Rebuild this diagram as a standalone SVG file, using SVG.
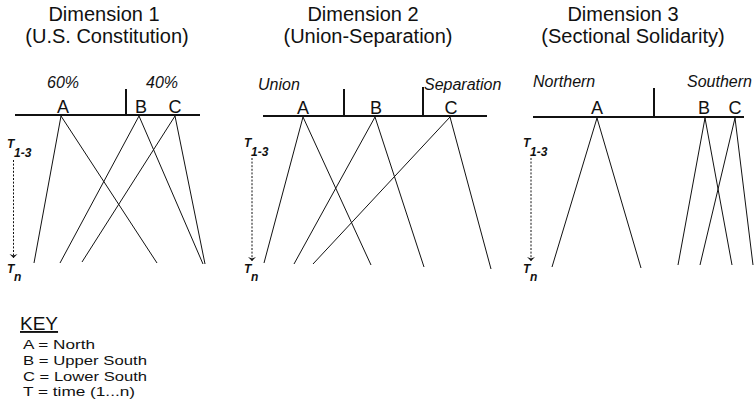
<svg xmlns="http://www.w3.org/2000/svg" width="755" height="414" viewBox="0 0 755 414">
<defs>
<style>
text{font-family:"Liberation Sans",Arial,sans-serif;fill:#111}
.title{font-size:20px;text-anchor:middle}
.lab{font-size:18px;text-anchor:middle}
.it{font-size:16px;font-style:italic}
.tt{font-size:12px;font-style:italic;font-weight:bold}
.key{font-size:13.5px}
.axis{stroke:#111;stroke-width:2.2;fill:none}
.div{stroke:#111;stroke-width:2;fill:none}
.ln{stroke:#111;stroke-width:1;fill:none}
.dash{stroke:#111;stroke-width:1;stroke-dasharray:2 1.6;fill:none;marker-end:url(#ah)}
</style>
<marker id="ah" markerUnits="userSpaceOnUse" markerWidth="10" markerHeight="10" viewBox="-6 -5 8 10" refX="0" refY="0" orient="auto">
<path d="M-4,-4 L0,0 L-4,4 L-2.5,0 z" fill="#111"/>
</marker>
</defs>
<rect width="755" height="414" fill="#fff"/>

<g id="titles">
<text class="title" x="104" y="21">Dimension 1</text>
<text class="title" x="107" y="43">(U.S. Constitution)</text>
<text class="title" x="363" y="21">Dimension 2</text>
<text class="title" x="368" y="43">(Union-Separation)</text>
<text class="title" x="623" y="21">Dimension 3</text>
<text class="title" x="633" y="43">(Sectional Solidarity)</text>
</g>

<g id="panel1">
<line class="axis" x1="15" y1="115" x2="200" y2="115"/>
<line class="div" x1="126" y1="89" x2="126" y2="115"/>
<text class="it" x="63" y="88" text-anchor="middle">60%</text>
<text class="it" x="162" y="88" text-anchor="middle">40%</text>
<text class="lab" x="63" y="113">A</text>
<text class="lab" x="141" y="113">B</text>
<text class="lab" x="175" y="113">C</text>
<line class="dash" x1="13.5" y1="160" x2="13.5" y2="258"/>
<text class="tt" x="7" y="148">T</text><text class="tt" x="14" y="157">1-3</text>
<text class="tt" x="7" y="273">T</text><text class="tt" x="14" y="281">n</text>
</g>

<g id="panel2">
<line class="axis" x1="263" y1="116" x2="487" y2="116"/>
<line class="div" x1="344" y1="89" x2="344" y2="116"/>
<line class="div" x1="423" y1="87" x2="423" y2="116"/>
<text class="it" x="258" y="90">Union</text>
<text class="it" x="424" y="90">Separation</text>
<text class="lab" x="303" y="114">A</text>
<text class="lab" x="376" y="114">B</text>
<text class="lab" x="451" y="114">C</text>
<line class="dash" x1="252" y1="158" x2="252" y2="261"/>
<text class="tt" x="244" y="147">T</text><text class="tt" x="251" y="156">1-3</text>
<text class="tt" x="244" y="273">T</text><text class="tt" x="251" y="281">n</text>
</g>

<g id="panel3">
<line class="axis" x1="533" y1="117" x2="744" y2="117"/>
<line class="div" x1="654" y1="88" x2="654" y2="117"/>
<text class="it" x="533" y="87">Northern</text>
<text class="it" x="687" y="87">Southern</text>
<text class="lab" x="597" y="114">A</text>
<text class="lab" x="704" y="114">B</text>
<text class="lab" x="735" y="114">C</text>
<line class="dash" x1="531" y1="158" x2="531" y2="261"/>
<text class="tt" x="523" y="147">T</text><text class="tt" x="530" y="156">1-3</text>
<text class="tt" x="523" y="273">T</text><text class="tt" x="530" y="281">n</text>
</g>

<g id="connectors">
<line class="ln" x1="61" y1="116" x2="34" y2="263"/>
<line class="ln" x1="61" y1="116" x2="157" y2="263"/>
<line class="ln" x1="139" y1="116" x2="60" y2="263"/>
<line class="ln" x1="139" y1="116" x2="203" y2="264"/>
<line class="ln" x1="175" y1="116" x2="82" y2="262"/>
<line class="ln" x1="175" y1="116" x2="205" y2="264"/>

<line class="ln" x1="303" y1="117" x2="264" y2="263"/>
<line class="ln" x1="303" y1="117" x2="371" y2="265"/>
<line class="ln" x1="375" y1="117" x2="294" y2="264"/>
<line class="ln" x1="375" y1="117" x2="424" y2="267"/>
<line class="ln" x1="450" y1="117" x2="313" y2="264"/>
<line class="ln" x1="450" y1="117" x2="491" y2="269"/>

<line class="ln" x1="597" y1="118" x2="552" y2="267"/>
<line class="ln" x1="597" y1="118" x2="641" y2="268"/>
<line class="ln" x1="705" y1="118" x2="678" y2="265"/>
<line class="ln" x1="705" y1="118" x2="732" y2="265"/>
<line class="ln" x1="735" y1="118" x2="700" y2="265"/>
<line class="ln" x1="735" y1="118" x2="753" y2="265"/>
</g>

<g id="key">
<text x="20" y="330" font-size="19" text-decoration="underline">KEY</text>
<text class="key" x="23" y="349" textLength="72" lengthAdjust="spacingAndGlyphs">A = North</text>
<text class="key" x="23" y="365" textLength="124" lengthAdjust="spacingAndGlyphs">B = Upper South</text>
<text class="key" x="23" y="380.5" textLength="124" lengthAdjust="spacingAndGlyphs">C = Lower South</text>
<text class="key" x="23" y="396" textLength="112" lengthAdjust="spacingAndGlyphs">T = time (1...n)</text>
</g>
</svg>
